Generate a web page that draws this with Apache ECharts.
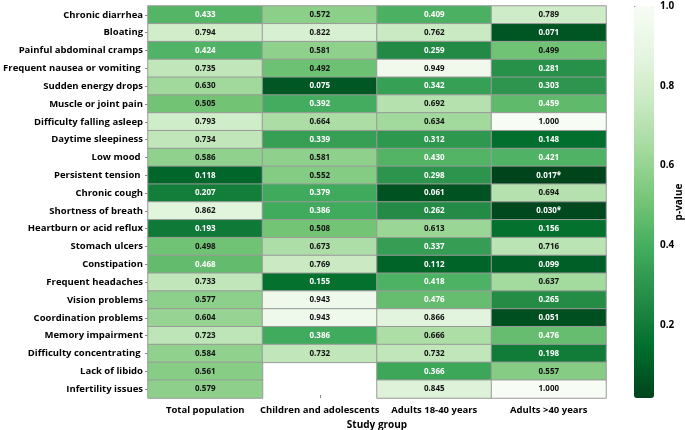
<!DOCTYPE html>
<html>
<head>
<meta charset="utf-8">
<script src="https://cdn.jsdelivr.net/npm/echarts@6/dist/echarts.min.js"></script>
<style>
  html, body { margin: 0; padding: 0; background: #fff; }
  #chart { width: 685px; height: 430px; }
</style>
</head>
<body>
<div id="chart"></div>
<script>
const symptoms = [
  'Chronic diarrhea', 'Bloating', 'Painful abdominal cramps', 'Frequent nausea or vomiting ',
  'Sudden energy drops', 'Muscle or joint pain', 'Difficulty falling asleep', 'Daytime sleepiness',
  'Low mood ', 'Persistent tension ', 'Chronic cough', 'Shortness of breath',
  'Heartburn or acid reflux', 'Stomach ulcers', 'Constipation', 'Frequent headaches',
  'Vision problems', 'Coordination problems', 'Memory impairment', 'Difficulty concentrating ',
  'Lack of libido', 'Infertility issues'
]
const groups = ['Total population', 'Children and adolescents', 'Adults 18-40 years', 'Adults >40 years']

const totalPop = [0.433, 0.794, 0.424, 0.735, 0.630, 0.505, 0.793, 0.734, 0.586, 0.118, 0.207,
  0.862, 0.193, 0.498, 0.468, 0.733, 0.577, 0.604, 0.723, 0.584, 0.561, 0.579]
const children = [0.572, 0.822, 0.581, 0.492, 0.075, 0.392, 0.664, 0.339, 0.581, 0.552, 0.379,
  0.386, 0.508, 0.673, 0.769, 0.155, 0.943, 0.943, 0.386, 0.732, null, null]
const adults1840 = [0.409, 0.762, 0.259, 0.949, 0.342, 0.692, 0.634, 0.312, 0.430, 0.298, 0.061,
  0.262, 0.613, 0.337, 0.112, 0.418, 0.476, 0.866, 0.666, 0.732, 0.366, 0.845]
const adults40 = [0.789, 0.071, 0.499, 0.281, 0.303, 0.459, 1.000, 0.148, 0.421, 0.017, 0.694,
  0.030, 0.156, 0.716, 0.099, 0.637, 0.265, 0.051, 0.476, 0.198, 0.557, 1.000]

const colorbarTicks = [0.2, 0.4, 0.6, 0.8, 1.0]
const pMin = 0.017
const pMax = 1.0

const greensR = ['#00441b', '#006d2c', '#238b45', '#41ab5d', '#74c476', '#a1d99b', '#c7e9c0', '#e5f5e0', '#f7fcf5']
const FONT = '"Open Sans", "DejaVu Sans", sans-serif'

const buildData = () => {
  const columns = [totalPop, children, adults1840, adults40]
  const data = []
  columns.forEach((col, x) => {
    col.forEach((v, y) => {
      if (v === null) return
      data.push({
        value: [x, y, v],
        label: { color: v < 0.485 ? '#ffffff' : '#111111' }
      })
    })
  })
  return data
}

const chart = echarts.init(document.getElementById('chart'))

chart.setOption({
  animation: false,
  textStyle: { fontFamily: FONT },
  grid: [
    { left: 148, right: 79, top: 6, bottom: 32, outerBoundsMode: 'none' },
    { left: 634, width: 20, top: 6, bottom: 32, outerBoundsMode: 'none' }
  ],
  xAxis: [
    {
      type: 'category',
      gridIndex: 0,
      data: groups,
      position: 'bottom',
      name: 'Study group',
      nameLocation: 'middle',
      nameGap: 19,
      nameTextStyle: { fontSize: 10, fontWeight: 'bold', color: '#000' },
      axisLine: { show: false },
      axisTick: { show: true, inside: true, length: 3, alignWithLabel: true, lineStyle: { color: '#888' } },
      axisLabel: { fontSize: 9.5, fontWeight: 'bold', color: '#000', margin: 7, interval: 0 },
      splitLine: { show: false }
    },
    {
      type: 'value',
      gridIndex: 1,
      show: false,
      min: 0,
      max: 1
    }
  ],
  yAxis: [
    {
      type: 'category',
      gridIndex: 0,
      data: symptoms,
      inverse: true,
      name: 'Symptom',
      nameLocation: 'middle',
      nameGap: 136,
      nameTextStyle: { fontSize: 10, fontWeight: 'bold', color: '#000' },
      axisLine: { show: false },
      axisTick: { show: true, length: 3, alignWithLabel: true, lineStyle: { color: '#888' } },
      axisLabel: { fontSize: 9.5, fontWeight: 'bold', color: '#000', margin: 5, interval: 0 },
      splitLine: { show: false }
    },
    {
      type: 'value',
      gridIndex: 1,
      position: 'right',
      min: pMin,
      max: pMax,
      name: 'p-value',
      nameLocation: 'middle',
      nameRotate: 90,
      nameGap: 20,
      nameMoveOverlap: false,
      nameTextStyle: { fontSize: 10, fontWeight: 'bold', color: '#000' },
      axisLine: { show: false },
      axisTick: { show: true, length: 3, customValues: colorbarTicks, lineStyle: { color: '#888' } },
      axisLabel: {
        customValues: colorbarTicks,
        fontSize: 10,
        fontWeight: 'bold',
        color: '#000',
        margin: 6,
        formatter: (v) => v.toFixed(1)
      },
      splitLine: { show: false }
    }
  ],
  visualMap: {
    type: 'continuous',
    seriesIndex: 0,
    dimension: 2,
    min: pMin,
    max: pMax,
    calculable: false,
    left: 634,
    top: 6,
    padding: 0,
    itemWidth: 20,
    itemHeight: 392,
    text: null,
    showLabel: false,
    inRange: { color: greensR }
  },
  series: [
    {
      type: 'heatmap',
      xAxisIndex: 0,
      yAxisIndex: 0,
      data: buildData(),
      itemStyle: { borderColor: '#9a9a9a', borderWidth: 1 },
      label: {
        show: true,
        fontSize: 8,
        fontWeight: 'bold',
        fontFamily: FONT,
        formatter: (p) => p.value[2].toFixed(3) + (p.value[2] < 0.05 ? '*' : '')
      },
      emphasis: { disabled: true }
    }
  ]
})
</script>
</body>
</html>
